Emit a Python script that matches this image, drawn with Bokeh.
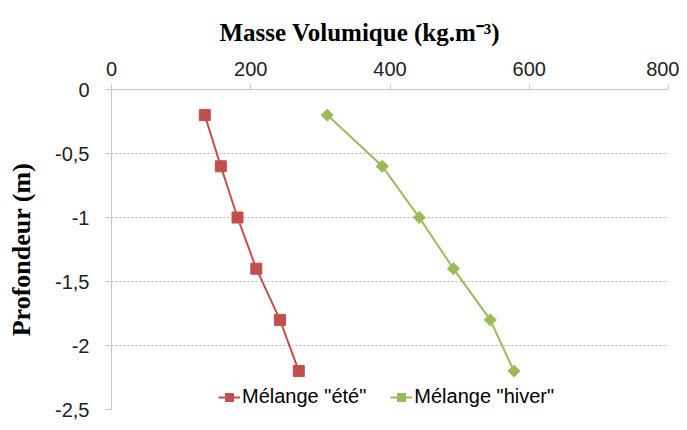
from bokeh.plotting import figure
from bokeh.models import Range1d, FixedTicker, Legend, LegendItem, Title
from bokeh.embed import file_html
from bokeh.resources import INLINE
import numpy as np

# Data
depth = [-0.2, -0.6, -1.0, -1.4, -1.8, -2.2]
ete = [134, 157, 181, 208, 242, 269]
hiver = [310, 389, 442, 491, 544, 578]
x_ticks = [0, 200, 400, 600, 800]
y_ticks = [0, -0.5, -1, -1.5, -2, -2.5]
y_tick_labels = ["0", "-0,5", "-1", "-1,5", "-2", "-2,5"]
series_names = ['Mélange "été"', 'Mélange "hiver"']
title_text = "Masse Volumique  (kg.m\u207b\u00b3)"
ylabel = "Profondeur (m)"

RED = "#C0504D"
GREEN = "#9BBB59"
FONT = "Liberation Serif"
FONT_REG = "Liberation Sans"

p = figure(width=679, height=422, output_backend="svg", toolbar_location=None,
           x_range=Range1d(0, 800), y_range=Range1d(-2.5, 0),
           x_axis_location="above",
           min_border_left=111, min_border_right=11, min_border_top=89, min_border_bottom=13)
p.outline_line_color = None
p.background_fill_color = "white"
p.border_fill_color = "white"

t = Title(text=title_text, align="left", offset=108,
          text_font=FONT, text_font_size="25px", text_font_style="bold",
          text_color="#000000", standoff=25)
p.add_layout(t, "above")

xa = p.xaxis[0]
xa.ticker = FixedTicker(ticks=x_ticks)
xa.major_label_text_font = FONT_REG
xa.major_label_text_font_size = "20px"
xa.major_label_text_color = "#222222"
xa.axis_line_color = "#C8C8C8"
xa.major_tick_line_color = "#C8C8C8"
xa.major_tick_out = 5
xa.major_tick_in = 0
xa.minor_tick_line_color = None
xa.major_label_standoff = 9

ya = p.yaxis[0]
ya.ticker = FixedTicker(ticks=y_ticks)
ya.major_label_overrides = {t_: l for t_, l in zip(y_ticks, y_tick_labels)}
ya.major_label_text_font = FONT_REG
ya.major_label_text_font_size = "20px"
ya.major_label_text_color = "#222222"
ya.axis_line_color = "#C8C8C8"
ya.major_tick_line_color = "#C8C8C8"
ya.major_tick_out = 6
ya.major_tick_in = 0
ya.minor_tick_line_color = None
ya.major_label_standoff = 16
ya.axis_label = ylabel
ya.axis_label_text_font = FONT
ya.axis_label_text_font_size = "26px"
ya.axis_label_text_font_style = "bold"
ya.axis_label_text_color = "#000000"
ya.axis_label_standoff = 16

p.xgrid.grid_line_color = None
p.ygrid.grid_line_color = "#BBBBBB"
p.ygrid.grid_line_dash = "2 2"
p.ygrid.grid_line_width = 1

l1 = p.line(ete, depth, line_color=RED, line_width=2)
s1 = p.scatter(ete, depth, marker="square", size=11, fill_color=RED, line_color=RED)
l2 = p.line(hiver, depth, line_color=GREEN, line_width=2)
s2 = p.scatter(hiver, depth, marker="square", size=8.5, angle=np.pi / 4,
               fill_color=GREEN, line_color=GREEN)

legend = Legend(items=[LegendItem(label=series_names[0], renderers=[l1, s1]),
                       LegendItem(label=series_names[1], renderers=[l2, s2])],
                orientation="horizontal", location=(107, 1),
                label_text_font=FONT_REG, label_text_font_size="20px",
                label_text_color="#000000",
                background_fill_color="white", background_fill_alpha=1.0,
                border_line_color=None, padding=1, margin=0, spacing=24,
                glyph_width=22, label_standoff=2)
p.add_layout(legend, "center")

open("out.html", "w").write(file_html(p, INLINE))
